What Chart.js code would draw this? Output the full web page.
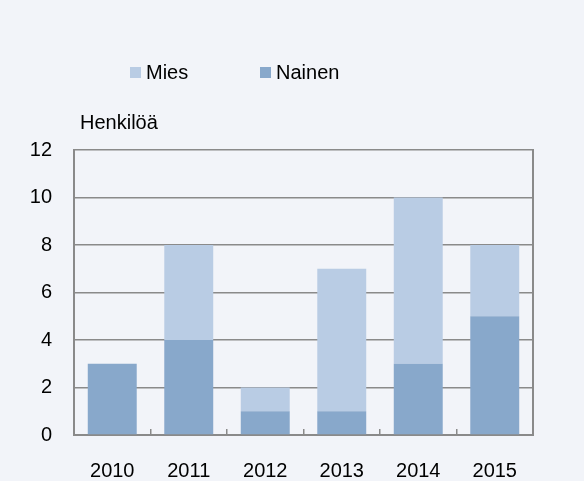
<!DOCTYPE html>
<html>
<head>
<meta charset="utf-8">
<script src="https://cdn.jsdelivr.net/npm/chart.js@4.4.1/dist/chart.umd.min.js"></script>
<style>
    body { margin: 0; background: #f2f4f9; }
    #wrap { width: 584px; height: 481px; }
</style>
</head>
<body>
<div id="wrap"><canvas id="chart" width="584" height="481"></canvas></div>
<script>
const years = ["2010", "2011", "2012", "2013", "2014", "2015"];
const nainen = [3, 4, 1, 1, 3, 5];
const mies = [0, 4, 1, 6, 7, 3];
const yTicks = [0, 2, 4, 6, 8, 10, 12];
const unitLabel = "Henkilöä";

document.addEventListener("DOMContentLoaded", () => {
    const font = "'Liberation Sans', Arial, sans-serif";
    const gridGray = "#8a8a8a";

    // legend (Mies first) and the unit caption above the plot
    const headerPlugin = {
        id: "header",
        afterDraw(chart) {
            const ctx = chart.ctx;
            ctx.save();
            ctx.font = "20px " + font;
            ctx.textBaseline = "alphabetic";
            const items = [chart.data.datasets[1], chart.data.datasets[0]];
            const xs = [130, 260];
            items.forEach((ds, i) => {
                ctx.fillStyle = ds.backgroundColor;
                ctx.fillRect(xs[i], 67, 11, 11);
                ctx.fillStyle = "#000";
                ctx.fillText(ds.label, xs[i] + 16, 79);
            });
            ctx.fillText(unitLabel, 80, 129);
            ctx.restore();
        }
    };

    // closes the frame on the right side of the plot
    const frame = {
        display: true,
        position: "right",
        min: 0,
        max: 12,
        grid: { display: false, drawTicks: false },
        ticks: { display: false },
        border: { display: true, color: gridGray, width: 2 },
        afterFit: s => { s.width = 0; }
    };

    new Chart(document.getElementById("chart"), {
        type: "bar",
        data: {
            labels: years,
            datasets: [
                { label: "Nainen", data: nainen, backgroundColor: "#88a8cb", stack: "s" },
                { label: "Mies", data: mies, backgroundColor: "#b9cce4", stack: "s" }
            ]
        },
        options: {
            responsive: false,
            animation: false,
            categoryPercentage: 1,
            barPercentage: 0.64,
            layout: { padding: { top: 150, right: 51, left: 0, bottom: 0 } },
            plugins: {
                legend: { display: false },
                tooltip: { enabled: false }
            },
            scales: {
                x: {
                    stacked: true,
                    grid: {
                        offset: true,
                        drawOnChartArea: false,
                        tickLength: -6,
                        color: gridGray,
                        lineWidth: 1.5
                    },
                    border: { color: gridGray, width: 2 },
                    ticks: { color: "#000", padding: 30, font: { size: 20, family: font } },
                    afterFit: s => { s.height = 46; }
                },
                y: {
                    stacked: true,
                    min: 0,
                    max: 12,
                    afterBuildTicks: s => { s.ticks = yTicks.map(v => ({ value: v })); },
                    grid: { color: gridGray, lineWidth: 1.5, drawTicks: false },
                    border: { color: gridGray, width: 2 },
                    ticks: { color: "#000", padding: 22, font: { size: 20, family: font } },
                    afterFit: s => { s.width = 74; }
                },
                y2: frame
            }
        },
        plugins: [headerPlugin]
    });
});
</script>
</body>
</html>
